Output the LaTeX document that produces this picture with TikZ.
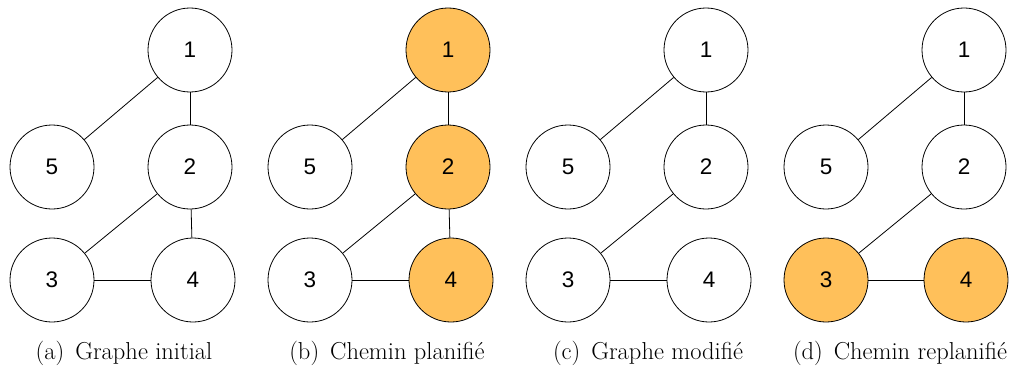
\documentclass[tikz,border=0pt]{standalone}
\usepackage{fontspec}
\usepackage{xcolor}
\usepackage{tikz}
\usetikzlibrary{positioning}
\newfontfamily\vertexfont{Liberation Sans}
\definecolor{pathorange}{RGB}{255,192,90}
\newcommand{\sublabel}[1]{(#1)\hspace{11pt}}

\begin{document}
\begin{tikzpicture}[x=1pt, y=-1pt,
    vertex/.style={circle, draw, line width=0.8pt, minimum size=84pt, inner sep=0pt, font=\vertexfont\fontsize{22.5}{26}\selectfont},
    onpath/.style={vertex, fill=pathorange},
    edge/.style={line width=0.8pt},
    caption/.style={font=\fontsize{24.5}{29}\selectfont}]
          \useasboundingbox (0,0) rectangle (1019,369);

          % (a) initial graph
          \node[vertex] (a1) at (190,50) {1};
          \node[vertex] (a5) at (52,167) {5};
          \node[vertex] (a2) at (190,167) {2};
          \node[vertex] (a3) at (52,280) {3};
          \node[vertex] (a4) at (193,280) {4};
          \draw[edge] (a1) -- (a5);
          \draw[edge] (a1) -- (a2);
          \draw[edge] (a2) -- (a3);
          \draw[edge] (a2) -- (a4);
          \draw[edge] (a3) -- (a4);
          \node[caption] (capa) at (124,353) {\sublabel{a}Graphe initial};

          % (b) planned path
          \node[onpath] (b1) at (448,50) {1};
          \node[vertex] (b5) at (310,167) {5};
          \node[onpath] (b2) at (448,167) {2};
          \node[vertex] (b3) at (310,280) {3};
          \node[onpath] (b4) at (451,280) {4};
          \draw[edge] (b1) -- (b5);
          \draw[edge] (b1) -- (b2);
          \draw[edge] (b2) -- (b3);
          \draw[edge] (b2) -- (b4);
          \draw[edge] (b3) -- (b4);
          \node[caption] (capb) at (387,353) {\sublabel{b}Chemin planifié};

          % (c) modified graph
          \node[vertex] (c1) at (706,50) {1};
          \node[vertex] (c5) at (568,167) {5};
          \node[vertex] (c2) at (706,167) {2};
          \node[vertex] (c3) at (568,280) {3};
          \node[vertex] (c4) at (709,280) {4};
          \draw[edge] (c1) -- (c5);
          \draw[edge] (c1) -- (c2);
          \draw[edge] (c2) -- (c3);
          \draw[edge] (c3) -- (c4);
          \node[caption] (capc) at (648,353) {\sublabel{c}Graphe modifié};

          % (d) replanned path
          \node[vertex] (d1) at (964,50) {1};
          \node[vertex] (d5) at (826,167) {5};
          \node[vertex] (d2) at (964,167) {2};
          \node[onpath] (d3) at (826,280) {3};
          \node[onpath] (d4) at (966,280) {4};
          \draw[edge] (d1) -- (d5);
          \draw[edge] (d1) -- (d2);
          \draw[edge] (d2) -- (d3);
          \draw[edge] (d3) -- (d4);
          \node[caption] (capd) at (900,353) {\sublabel{d}Chemin replanifié};
        \end{tikzpicture}
\end{document}
